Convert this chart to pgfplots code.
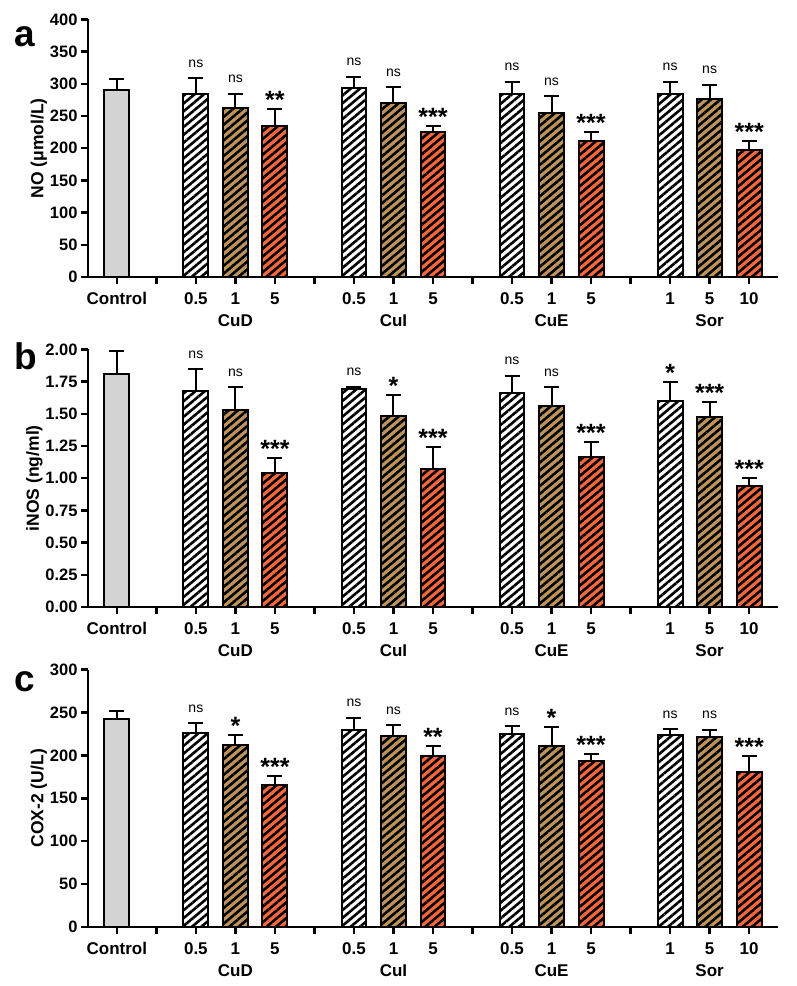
\documentclass[border=0pt]{standalone}
\usepackage{pgfplots}
\pgfplotsset{compat=1.18}
\usepackage{pgfplotstable}
\usetikzlibrary{patterns.meta}
\usepackage{fontspec}
\setmainfont{Liberation Sans}

\definecolor{ctrlgray}{RGB}{211,211,211}
\definecolor{midbrown}{RGB}{189,149,89}
\definecolor{highred}{RGB}{250,102,56}

% significance vs control: plain "ns", enlarged bold asterisks
\def\signs{ns}
\newcommand\siglabel[1]{\edef\sigtmp{#1}\ifx\sigtmp\signs
  {\fontsize{14}{14}\selectfont ns}\else
  {\fontsize{25}{25}\selectfont\bfseries\raisebox{-10.5pt}{#1}}\fi}

% columns: position, mean, SD, significance for the three doses of each compound
\pgfplotstableread{
grp xa ya  ea sa xb yb  eb sb xc yc  ec sc
CuD 2  285 24 ns 3  263 22 ns 4  234 27 **
CuI 6  293 18 ns 7  270 25 ns 8  225 9  ***
CuE 10 284 19 ns 11 255 26 ns 12 211 14 ***
Sor 14 284 19 ns 15 277 22 ns 16 198 13 ***
}\tabNO

\pgfplotstableread{
grp xa ya    ea    sa xb yb    eb    sb  xc yc    ec    sc
CuD 2  1.675 0.170 ns 3  1.530 0.178 ns  4  1.043 0.111 ***
CuI 6  1.693 0.018 ns 7  1.486 0.160 *   8  1.071 0.168 ***
CuE 10 1.662 0.134 ns 11 1.559 0.147 ns  12 1.166 0.114 ***
Sor 14 1.600 0.147 *  15 1.474 0.118 *** 16 0.939 0.062 ***
}\tabINOS

\pgfplotstableread{
grp xa ya    ea   sa xb yb    eb   sb xc yc    ec   sc
CuD 2  225.5 12.0 ns 3  211.5 12.5 *  4  165.3 10.7 ***
CuI 6  230.0 13.7 ns 7  222.4 12.6 ns 8  198.7 12.3 **
CuE 10 224.3 9.7  ns 11 210.3 22.5 *  12 193.6 7.8  ***
Sor 14 224.0 6.5  ns 15 221.6 8.4  ns 16 180.8 18.7 ***
}\tabCOX

\pgfplotsset{
  panel/.style={
    scale only axis, width=690pt, height=257.5pt,
    axis lines=left, axis line style={line width=2.8pt, -},
    xmin=-0.73, xmax=16.73, ymin=0, clip=false,
    xtick={0,...,16},
    xticklabels={Control,,0.5,{1\\CuD},5,,0.5,{1\\CuI},5,,0.5,{1\\CuE},5,,1,{5\\Sor},10},
    tick align=outside, major tick length=7pt,
    every tick/.style={line width=2.5pt, black},
    /pgf/number format/assume math mode=true,
    x tick label style={font=\fontsize{17}{22}\selectfont\bfseries, align=center, yshift=-5pt},
    y tick label style={font=\fontsize{16.5}{20}\selectfont\bfseries},
    ylabel style={font=\fontsize{17.5}{20}\selectfont\bfseries},
    ylabel shift=-4pt,
  },
  barbase/.style={ybar, bar width=0.63, bar shift=0pt, draw=black, line width=2pt,
    error bars/y dir=plus, error bars/y explicit,
    error bars/error bar style={line width=2pt, black},
    error bars/error mark options={line width=2pt, mark size=7.5pt, black, rotate=90}},
  ctrl/.style={barbase, fill=ctrlgray},
  hatched/.style={barbase, fill=#1,
    postaction={pattern={Lines[angle=40, distance=6pt, line width=2.6pt]}, pattern color=black}},
  sig/.style={only marks, mark=*, mark size=0pt, mark options={draw=none, fill=none},
    point meta=explicit symbolic,
    nodes near coords={\siglabel{\pgfplotspointmeta}},
    nodes near coords align={anchor=base},
    every node near coord/.append style={yshift=11pt, inner sep=0pt, text=black}},
}

% one panel: control bar, three dose series, significance marks
\newcommand\drawpanel[3]{%
  \addplot[ctrl] coordinates {(0,#2) +- (0,#3)};
  \addplot[hatched=white] table[x=xa, y=ya, y error=ea]{#1};
  \addplot[hatched=midbrown] table[x=xb, y=yb, y error=eb]{#1};
  \addplot[hatched=highred] table[x=xc, y=yc, y error=ec]{#1};
  \addplot[sig] table[x=xa, y expr=\thisrow{ya}+\thisrow{ea}, meta=sa]{#1};
  \addplot[sig] table[x=xb, y expr=\thisrow{yb}+\thisrow{eb}, meta=sb]{#1};
  \addplot[sig] table[x=xc, y expr=\thisrow{yc}+\thisrow{ec}, meta=sc]{#1};
}

\begin{document}
\begin{tikzpicture}
\useasboundingbox (0,0) rectangle (797pt,986pt);

\begin{axis}[panel, at={(88pt,709pt)}, anchor=south west,
  ymax=400, ytick={0,50,...,400}, ylabel={NO (μmol/L)}]
  \drawpanel{\tabNO}{291}{17}
\end{axis}

\begin{axis}[panel, at={(88pt,379pt)}, anchor=south west,
  ymax=2, ytick={0,0.25,...,2}, ylabel={iNOS (ng/ml)},
  yticklabel style={/pgf/number format/.cd, fixed, fixed zerofill, precision=2}]
  \drawpanel{\tabINOS}{1.806}{0.186}
\end{axis}

\begin{axis}[panel, at={(88pt,59pt)}, anchor=south west,
  ymax=300, ytick={0,50,...,300}, ylabel={COX-2 (U/L)}]
  \drawpanel{\tabCOX}{242}{10}
\end{axis}

\node[anchor=base west, inner sep=0pt, font=\fontsize{37}{37}\selectfont\bfseries] at (14pt,939pt) {a};
\node[anchor=base west, inner sep=0pt, font=\fontsize{37}{37}\selectfont\bfseries] at (14pt,616pt) {b};
\node[anchor=base west, inner sep=0pt, font=\fontsize{37}{37}\selectfont\bfseries] at (14pt,294pt) {c};
\end{tikzpicture}
\end{document}
